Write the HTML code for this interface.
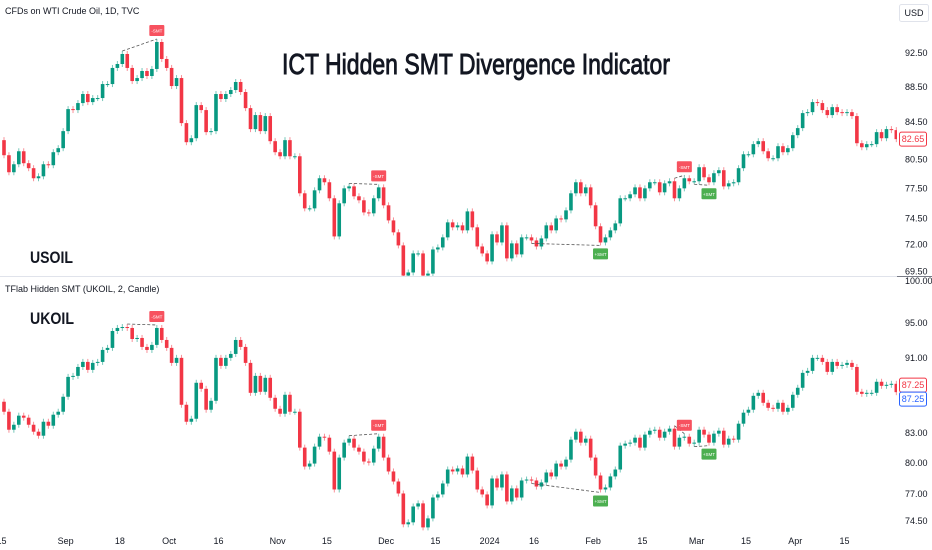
<!DOCTYPE html>
<html><head><meta charset="utf-8">
<style>
html,body{margin:0;padding:0;background:#fff;}
svg{display:block;font-family:"Liberation Sans",sans-serif;}
</style></head>
<body>
<svg id="chart" width="932" height="550" viewBox="0 0 932 550" xmlns="http://www.w3.org/2000/svg">
<defs>
<clipPath id="clipTop"><rect x="0" y="24" width="897" height="252"/></clipPath>
<clipPath id="clipBot"><rect x="0" y="296" width="897" height="237"/></clipPath>
</defs>
<rect x="0" y="0" width="932" height="550" fill="#ffffff"/>
<line x1="0" y1="276.5" x2="932" y2="276.5" stroke="#e0e3eb" stroke-width="1"/>
<line x1="897" y1="276.5" x2="932" y2="276.5" stroke="#787b86" stroke-width="1"/>
<text x="5" y="14" font-size="9" fill="#131722">CFDs on WTI Crude Oil, 1D, TVC</text>
<text x="5" y="292" font-size="9" fill="#131722">TFlab Hidden SMT (UKOIL, 2, Candle)</text>
<text x="282" y="74" font-size="29" fill="#131722" stroke="#131722" stroke-width="0.9" textLength="388" lengthAdjust="spacingAndGlyphs">ICT Hidden SMT Divergence Indicator</text>
<text x="30" y="263" font-size="17" font-weight="bold" fill="#131722" textLength="43" lengthAdjust="spacingAndGlyphs">USOIL</text>
<text x="30" y="324" font-size="17" font-weight="bold" fill="#131722" textLength="44" lengthAdjust="spacingAndGlyphs">UKOIL</text>
<rect x="899.5" y="4.5" width="29" height="17" rx="2" fill="#fff" stroke="#e0e3eb"/>
<text x="914" y="16" font-size="9" fill="#131722" text-anchor="middle">USD</text>
<g id="topCandles" clip-path="url(#clipTop)"></g>
<g id="botCandles" clip-path="url(#clipBot)"></g>
<g id="overlay"></g>
<g id="axes"></g>
</svg>
<script>
const usClose=[80.93,79.15,79.98,81.35,80.09,79.57,78.53,78.73,79.98,79.88,81.25,81.68,83.52,85.96,85.85,86.64,87.67,86.75,87.21,87.21,88.82,88.82,90.71,91.18,92.38,90.71,89.17,89.52,90.35,89.76,90.59,93.84,91.78,90.71,88.59,89.52,84.40,82.32,82.75,86.41,85.85,83.41,83.52,87.67,87.10,87.67,88.13,89.06,87.90,86.07,83.74,85.29,83.52,85.18,82.43,81.25,80.82,82.54,80.82,80.82,77.00,75.50,75.50,77.30,78.53,78.12,76.50,72.78,76.00,77.50,77.70,76.70,76.30,75.10,75.01,76.50,77.60,75.80,74.32,73.17,71.93,69.15,69.43,71.18,71.18,69.15,69.33,71.55,71.74,72.69,74.13,73.65,73.84,73.36,75.20,73.65,71.83,71.18,70.44,72.98,72.21,73.84,70.72,72.12,71.09,72.69,72.69,72.40,71.83,72.59,73.84,73.36,74.51,74.42,75.30,77.00,78.12,77.00,77.60,75.80,73.75,72.21,72.69,73.36,74.03,76.50,76.50,76.90,77.60,76.50,77.50,78.12,78.12,77.10,78.01,78.22,76.50,77.50,78.53,78.22,78.22,79.67,78.63,78.12,79.05,79.36,77.70,78.01,78.12,79.57,81.03,81.03,82.11,82.43,81.35,80.61,80.61,81.89,81.25,81.68,83.08,83.85,85.51,85.62,86.75,86.64,85.85,85.29,86.18,85.62,85.51,85.62,85.18,82.21,81.78,82.11,82.11,83.41,82.75,83.74,83.63,82.65];
const usFirstOpen=82.54;
const ukClose=[85.18,83.32,83.83,84.77,84.56,83.83,83.12,82.71,84.14,83.73,84.87,85.18,86.76,88.90,89.01,89.99,90.55,89.67,90.44,90.55,91.89,92.12,94.05,94.40,94.51,94.40,93.13,93.25,92.23,91.89,92.46,94.40,93.02,92.12,90.44,91.00,85.91,84.14,84.45,88.26,87.61,85.39,86.33,91.00,90.11,91.00,91.44,93.02,92.23,90.44,87.18,89.01,87.29,88.80,86.65,85.49,84.97,86.97,85.18,85.18,81.51,79.64,79.93,81.61,82.61,82.51,81.11,77.43,80.52,82.01,82.41,81.51,81.11,80.13,80.03,81.41,82.61,80.52,79.16,78.19,77.05,74.19,74.37,75.83,76.12,73.91,74.73,76.67,76.96,78.00,79.35,79.16,79.45,78.87,80.62,79.25,77.43,76.96,75.93,78.48,77.62,78.87,76.30,77.53,76.67,78.29,78.38,78.29,77.71,78.10,79.06,78.68,79.93,79.64,80.32,82.31,83.12,82.01,82.41,80.52,78.77,77.43,77.62,78.68,79.35,81.71,81.91,82.01,82.51,81.51,82.82,83.22,83.32,82.51,83.12,83.43,81.61,82.51,82.61,81.91,82.01,83.32,82.82,82.01,82.92,83.22,81.81,82.41,82.31,83.94,85.08,85.39,86.86,87.18,86.12,85.59,85.49,86.12,85.18,85.59,86.97,87.72,89.34,89.56,91.00,91.00,90.55,89.45,90.55,90.11,90.22,90.44,89.99,87.29,87.07,87.18,87.18,88.37,87.93,88.04,88.15,87.25];
const ukFirstOpen=86.23;
const usTicks=[92.5,88.5,84.5,80.5,77.5,74.5,72,69.5];
const ukTicks=[100,95,91,83,80,77,74.5];
const xTickLabels=["15","Sep","18","Oct","16","Nov","15","Dec","15","2024","16","Feb","15","Mar","15","Apr","15"];
const xTickIndex=[-0.5,12.5,23.5,33.5,43.5,55.5,65.5,77.5,87.5,98.5,107.5,119.5,129.5,140.5,150.5,160.5,170.5];
const usSignals=[[24,31,"bear"],[70,76,"bear"],[107,121,"bull"],[136,138,"bear"],[140,143,"bull"]];
const ukSignals=[[25,31,"bear"],[70,76,"bear"],[107,121,"bull"],[136,138,"bear"],[140,143,"bull"]];

const NS="http://www.w3.org/2000/svg";
const GREEN="#089981",RED="#f23645";
function xPos(i){return 4+i*4.93;}
function yUS(p){return 53+765*Math.log(92.5/p);}
function yUK(p){return 281+815*Math.log(100/p);}
function mk(tag,attrs,parent){const e=document.createElementNS(NS,tag);for(const k in attrs)e.setAttribute(k,attrs[k]);parent.appendChild(e);return e;}

function drawCandles(closes,firstOpen,yf,g,prefix){
  for(let i=0;i<closes.length;i++){
    const o=i===0?firstOpen:closes[i-1];
    const c=closes[i];
    const up=c>=o;
    const col=up?GREEN:RED;
    const yo=yf(o),yc=yf(c);
    const top=Math.min(yo,yc),bot=Math.max(yo,yc);
    const x=xPos(i);
    const w=mk('line',{x1:x,x2:x,y1:top-3,y2:bot+3,stroke:col,'stroke-opacity':0.55,'stroke-width':1},g);
    
    
    const b=mk('rect',{x:x-1.8,y:top,width:3.6,height:Math.max(1,bot-top),fill:col},g);
    
    
  }
}
drawCandles(usClose,usFirstOpen,yUS,document.getElementById('topCandles'),'usoil');
drawCandles(ukClose,ukFirstOpen,yUK,document.getElementById('botCandles'),'ukoil');

const ov=document.getElementById('overlay');
function drawSignals(sig,closes,firstOpen,yf,prefix){
  sig.forEach(s=>{
    const a=s[0],b=s[1],bear=s[2]==="bear";
    function ext(i){const o=i===0?firstOpen:closes[i-1],c=closes[i];return bear?yf(Math.max(o,c))-3:yf(Math.min(o,c))+3;}
    const ya=ext(a),yb=ext(b);
    const l=mk('line',{x1:xPos(a),y1:ya,x2:xPos(b),y2:yb,stroke:'#555',"stroke-dasharray":"3,2","stroke-width":0.8},ov);
    
    
    const bx=xPos(b)-7.5;
    const by=bear?yb-14:yb+3;
    const col=bear?"#f7525f":"#4caf50";
    const r=mk('rect',{x:bx,y:by,width:15,height:11,rx:1,fill:col},ov);
    
    
    const t=mk('text',{x:bx+7.5,y:by+7.5,'font-size':4.5,fill:'#fff','text-anchor':'middle'},ov);
    t.textContent=bear?"-SMT":"+SMT";
    
    
  });
}
drawSignals(usSignals,usClose,usFirstOpen,yUS,'usoil');
drawSignals(ukSignals,ukClose,ukFirstOpen,yUK,'ukoil');

const ax=document.getElementById('axes');
function fmt(v){return v.toFixed(2);}
usTicks.forEach(v=>{
  const t=mk('text',{x:905,y:yUS(v)+3,'font-size':9,fill:'#131722'},ax);
  t.textContent=fmt(v);
  
  
});
ukTicks.forEach(v=>{
  const t=mk('text',{x:905,y:yUK(v)+3,'font-size':9,fill:'#131722'},ax);
  t.textContent=fmt(v);
  
  
});
xTickLabels.forEach((lab,i)=>{
  const t=mk('text',{x:xPos(xTickIndex[i]),y:544,'font-size':9,fill:'#131722','text-anchor':'middle'},ax);
  t.textContent=lab;
  
  
});
function priceTag(v,yf,col,dy,name){
  const y=yf(v)+dy;
  const r=mk('rect',{x:899.5,y:y-7,width:27,height:14,rx:2,fill:'#fff',stroke:col},ax);
  
  
  const t=mk('text',{x:913,y:y+3,'font-size':9,fill:col,'text-anchor':'middle'},ax);
  t.textContent=fmt(v);
  
  
}
priceTag(usClose[usClose.length-1],yUS,RED,0,'usoil-last-price');
priceTag(ukClose[ukClose.length-1],yUK,RED,-7,'ukoil-last-price');
priceTag(ukClose[ukClose.length-1],yUK,"#2962ff",7,'ukoil-indicator-price');
</script>
</body></html>
